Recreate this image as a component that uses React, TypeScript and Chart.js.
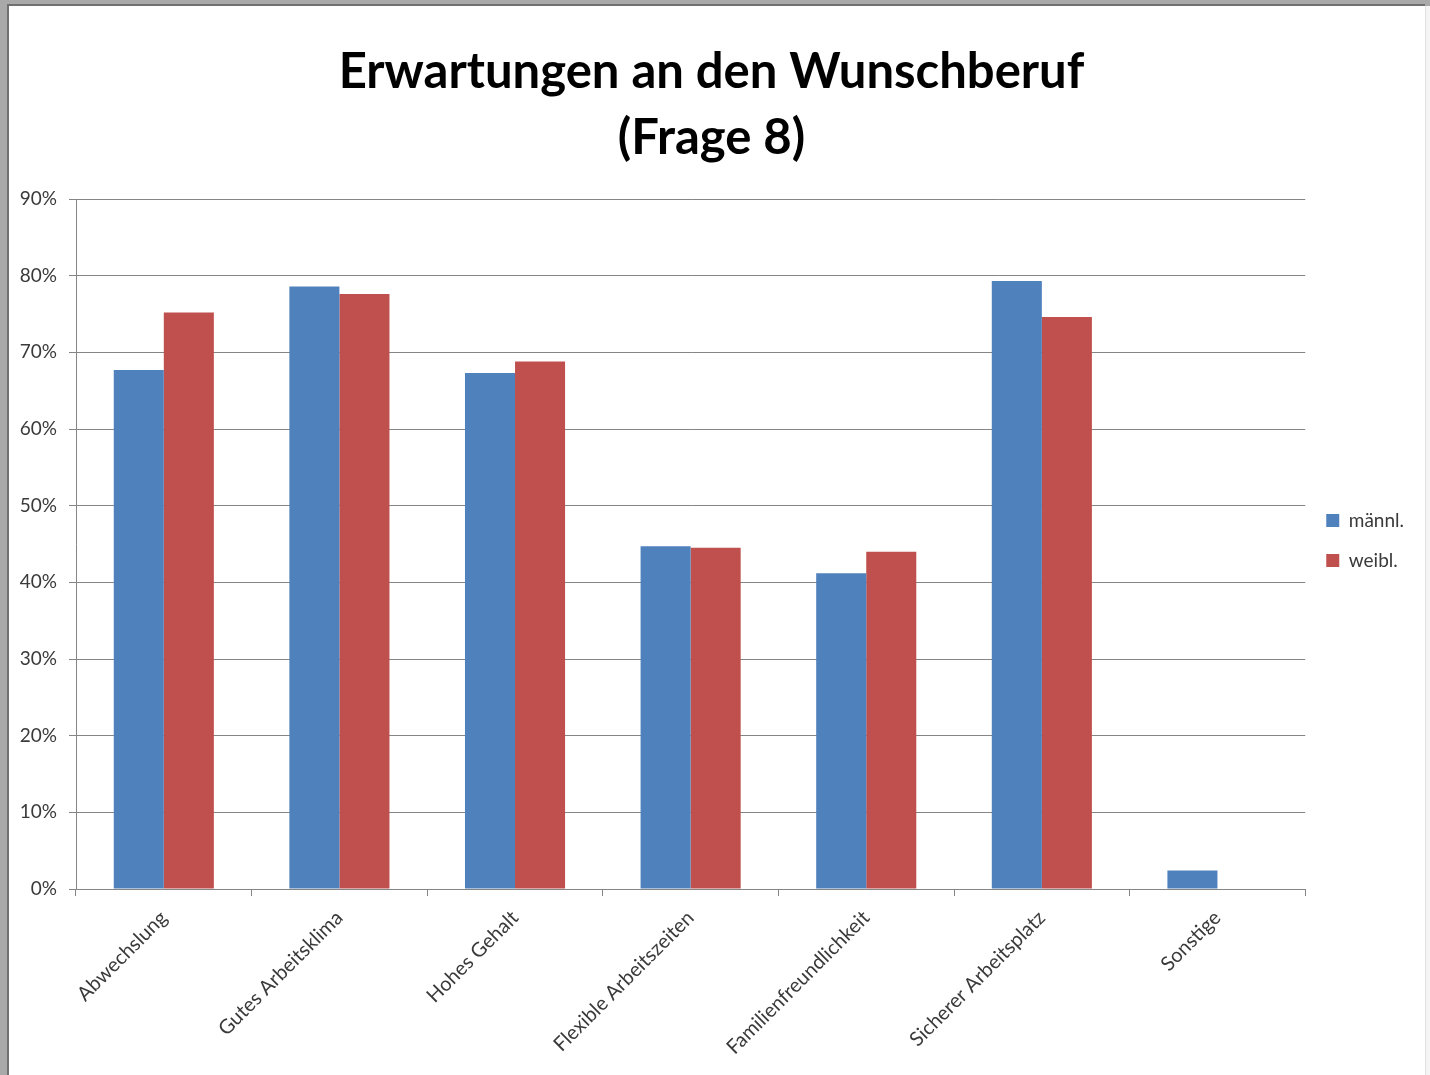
import React, { useEffect, useRef } from "react";
import { Chart, registerables } from "chart.js";

Chart.register(...registerables);

const TITLE_LINES = ["Erwartungen an den Wunschberuf", "(Frage 8)"];
const CATEGORIES = [
  "Abwechslung",
  "Gutes Arbeitsklima",
  "Hohes Gehalt",
  "Flexible Arbeitszeiten",
  "Familienfreundlichkeit",
  "Sicherer Arbeitsplatz",
  "Sonstige",
];
const SERIES_NAMES = ["männl.", "weibl."];
const MAENNL = [67.7, 78.6, 67.3, 44.7, 41.2, 79.3, 2.4];
const WEIBL = [75.2, 77.6, 68.8, 44.5, 44.0, 74.6, 0];
const Y_MIN = 0;
const Y_MAX = 90;
const Y_STEP = 10;

const BLUE = "#4F81BD";
const RED = "#C0504D";
const GRID = "#858585";
const TEXT = "#3a3a3a";

const CANVAS_W = 1416;
const CANVAS_H = 1069;

export default function App() {
  const ref = useRef<HTMLCanvasElement | null>(null);

  useEffect(() => {
    if (!ref.current) return;
    const chart = new Chart(ref.current, {
      type: "bar",
      data: {
        labels: CATEGORIES,
        datasets: [
          {
            label: SERIES_NAMES[0],
            data: MAENNL,
            backgroundColor: BLUE,
            borderWidth: 0,
            categoryPercentage: 0.57,
            barPercentage: 1.0,
          },
          {
            label: SERIES_NAMES[1],
            data: WEIBL,
            backgroundColor: RED,
            borderWidth: 0,
            categoryPercentage: 0.57,
            barPercentage: 1.0,
          },
        ],
      },
      options: {
        animation: false,
        responsive: false,
        devicePixelRatio: 1,
        layout: { padding: { left: 0, right: 11, top: 0, bottom: 0 } },
        font: { family: "Lato" },
        plugins: {
          title: {
            display: true,
            text: TITLE_LINES,
            color: "#000000",
            font: { family: "Lato", size: 49, weight: "bold", lineHeight: 66 / 49 },
            padding: { top: 33, bottom: 28 },
          },
          legend: {
            display: true,
            position: "right",
            labels: {
              boxWidth: 13,
              boxHeight: 13,
              padding: 21,
              color: TEXT,
              font: { family: "Lato", size: 19 },
            },
          },
          tooltip: { enabled: false },
        },
        scales: {
          x: {
            grid: {
              display: true,
              drawOnChartArea: false,
              drawTicks: true,
              tickLength: 7,
              color: GRID,
              offset: true,
            },
            border: { display: true, color: GRID, width: 1 },
            ticks: {
              color: TEXT,
              font: { family: "Lato", size: 20 },
              minRotation: 45,
              maxRotation: 45,
              autoSkip: false,
              padding: 10,
            },
            afterFit: (scale: any) => {
              scale.height = CANVAS_H - 883;
            },
          },
          y: {
            min: Y_MIN,
            max: Y_MAX,
            grid: {
              display: true,
              drawOnChartArea: true,
              drawTicks: true,
              tickLength: 7,
              color: GRID,
              lineWidth: 1,
            },
            border: { display: true, color: GRID, width: 1 },
            ticks: {
              stepSize: Y_STEP,
              color: TEXT,
              font: { family: "Lato", size: 19 },
              padding: 12,
              callback: (v: any) => `${v}%`,
            },
            afterFit: (scale: any) => {
              scale.width = 67;
            },
          },
        },
      },
    });
    return () => chart.destroy();
  }, []);

  return (
    <div
      style={{
        position: "fixed",
        left: 0,
        top: 0,
        width: 1430,
        height: 1075,
        background: "#a9a9a9",
        overflow: "hidden",
      }}
    >
      <div
        style={{
          position: "absolute",
          left: 1425,
          top: 6,
          width: 5,
          height: 1069,
          background: "#f5f5f5",
          borderLeft: "1px solid #e0e0e0",
        }}
      />
      <div
        style={{
          position: "absolute",
          left: 7,
          top: 4,
          width: CANVAS_W,
          height: CANVAS_H,
          background: "#ffffff",
          borderLeft: "2px solid #707070",
          borderTop: "2px solid #707070",
        }}
      >
        <canvas
          ref={ref}
          width={CANVAS_W}
          height={CANVAS_H}
          style={{ display: "block", width: CANVAS_W, height: CANVAS_H }}
        />
      </div>
    </div>
  );
}
